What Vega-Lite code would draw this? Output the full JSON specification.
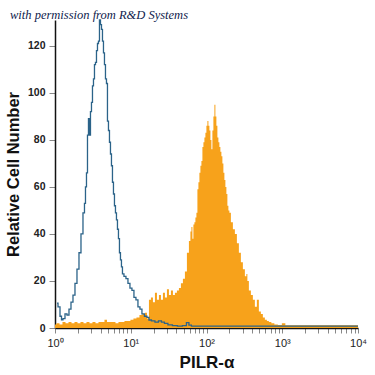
{
  "$schema": "https://vega.github.io/schema/vega-lite/v6.json",
  "autosize": "none",
  "width": 303,
  "height": 308,
  "padding": {"left": 55, "top": 20, "right": 17, "bottom": 47},
  "title": {
    "text": "with permission from R&D Systems",
    "anchor": "start",
    "frame": "group",
    "dx": -45,
    "offset": -14,
    "baseline": "alphabetic",
    "font": "Liberation Serif",
    "fontStyle": "italic",
    "fontWeight": "normal",
    "fontSize": 12.5,
    "color": "#0f1c4d"
  },
  "config": {
    "view": {"stroke": null},
    "axis": {"grid": false}
  },
  "datasets": {
    "control": [
      {"intensity": 1.063, "count": 10.6},
      {"intensity": 1.129, "count": 9},
      {"intensity": 1.2, "count": 5},
      {"intensity": 1.237, "count": 3.5},
      {"intensity": 1.314, "count": 4},
      {"intensity": 1.397, "count": 6},
      {"intensity": 1.484, "count": 5.5},
      {"intensity": 1.577, "count": 8},
      {"intensity": 1.676, "count": 11},
      {"intensity": 1.781, "count": 14},
      {"intensity": 1.892, "count": 19},
      {"intensity": 2.011, "count": 25},
      {"intensity": 2.137, "count": 32},
      {"intensity": 2.271, "count": 40},
      {"intensity": 2.413, "count": 49},
      {"intensity": 2.488, "count": 53},
      {"intensity": 2.564, "count": 60},
      {"intensity": 2.644, "count": 66},
      {"intensity": 2.725, "count": 82},
      {"intensity": 2.809, "count": 89},
      {"intensity": 2.895, "count": 82},
      {"intensity": 2.985, "count": 92},
      {"intensity": 3.077, "count": 96},
      {"intensity": 3.172, "count": 103},
      {"intensity": 3.27, "count": 106},
      {"intensity": 3.371, "count": 112},
      {"intensity": 3.475, "count": 113},
      {"intensity": 3.582, "count": 118},
      {"intensity": 3.693, "count": 121},
      {"intensity": 3.806, "count": 122},
      {"intensity": 3.924, "count": 131},
      {"intensity": 4.045, "count": 129},
      {"intensity": 4.17, "count": 127},
      {"intensity": 4.298, "count": 122},
      {"intensity": 4.431, "count": 117},
      {"intensity": 4.567, "count": 112},
      {"intensity": 4.709, "count": 106},
      {"intensity": 4.853, "count": 104},
      {"intensity": 5.003, "count": 88},
      {"intensity": 5.158, "count": 84},
      {"intensity": 5.317, "count": 79},
      {"intensity": 5.481, "count": 74},
      {"intensity": 5.649, "count": 69},
      {"intensity": 5.824, "count": 62},
      {"intensity": 6.003, "count": 57},
      {"intensity": 6.189, "count": 52},
      {"intensity": 6.38, "count": 49},
      {"intensity": 6.576, "count": 46},
      {"intensity": 6.779, "count": 42},
      {"intensity": 6.989, "count": 38},
      {"intensity": 7.203, "count": 32},
      {"intensity": 7.425, "count": 29},
      {"intensity": 7.654, "count": 26},
      {"intensity": 7.891, "count": 23},
      {"intensity": 8.385, "count": 22},
      {"intensity": 8.911, "count": 21},
      {"intensity": 9.469, "count": 19},
      {"intensity": 10.06, "count": 17},
      {"intensity": 10.69, "count": 16},
      {"intensity": 11.36, "count": 13},
      {"intensity": 12.07, "count": 12},
      {"intensity": 12.83, "count": 9},
      {"intensity": 13.63, "count": 8},
      {"intensity": 14.49, "count": 6},
      {"intensity": 15.87, "count": 5},
      {"intensity": 16.87, "count": 4.5},
      {"intensity": 17.92, "count": 3.4},
      {"intensity": 19.64, "count": 3},
      {"intensity": 22.16, "count": 2.5},
      {"intensity": 24.28, "count": 3},
      {"intensity": 26.6, "count": 2.5},
      {"intensity": 29.13, "count": 2},
      {"intensity": 32.9, "count": 1.3},
      {"intensity": 38.3, "count": 1},
      {"intensity": 44.58, "count": 0.8},
      {"intensity": 51.88, "count": 1},
      {"intensity": 56.84, "count": 2.3},
      {"intensity": 60.39, "count": 1.2},
      {"intensity": 66.16, "count": 0.8},
      {"intensity": 81.85, "count": 0.8},
      {"intensity": 10000, "count": 0.8}
    ],
    "positive": [
      {"intensity": 1.0, "count": 1.5},
      {"intensity": 1.096, "count": 2},
      {"intensity": 1.2, "count": 1.5},
      {"intensity": 1.314, "count": 2.5},
      {"intensity": 1.44, "count": 2},
      {"intensity": 1.577, "count": 2.5},
      {"intensity": 1.728, "count": 2},
      {"intensity": 1.892, "count": 2.5},
      {"intensity": 2.073, "count": 2},
      {"intensity": 2.271, "count": 2.5},
      {"intensity": 2.488, "count": 2},
      {"intensity": 2.725, "count": 2.5},
      {"intensity": 2.985, "count": 2},
      {"intensity": 3.27, "count": 2.5},
      {"intensity": 3.582, "count": 2},
      {"intensity": 3.924, "count": 2.5},
      {"intensity": 4.298, "count": 2.5},
      {"intensity": 4.709, "count": 3.5},
      {"intensity": 5.003, "count": 2.5},
      {"intensity": 5.481, "count": 2.5},
      {"intensity": 6.003, "count": 2.5},
      {"intensity": 6.576, "count": 2},
      {"intensity": 7.203, "count": 2.5},
      {"intensity": 7.891, "count": 2.5},
      {"intensity": 8.644, "count": 3},
      {"intensity": 9.469, "count": 3},
      {"intensity": 10.37, "count": 3.5},
      {"intensity": 11.36, "count": 4},
      {"intensity": 12.45, "count": 4.5},
      {"intensity": 13.63, "count": 5.5},
      {"intensity": 14.93, "count": 6},
      {"intensity": 15.87, "count": 6.5},
      {"intensity": 16.87, "count": 4},
      {"intensity": 17.92, "count": 12},
      {"intensity": 19.04, "count": 13},
      {"intensity": 20.24, "count": 11},
      {"intensity": 21.5, "count": 15},
      {"intensity": 22.86, "count": 12},
      {"intensity": 24.28, "count": 14},
      {"intensity": 25.8, "count": 12},
      {"intensity": 27.42, "count": 15},
      {"intensity": 29.13, "count": 13},
      {"intensity": 30.96, "count": 16.5},
      {"intensity": 32.9, "count": 14},
      {"intensity": 34.96, "count": 16},
      {"intensity": 37.15, "count": 14},
      {"intensity": 39.48, "count": 15},
      {"intensity": 41.95, "count": 16},
      {"intensity": 44.58, "count": 17},
      {"intensity": 47.37, "count": 19},
      {"intensity": 50.33, "count": 21},
      {"intensity": 53.48, "count": 24},
      {"intensity": 56.84, "count": 32},
      {"intensity": 60.39, "count": 37},
      {"intensity": 62.26, "count": 41},
      {"intensity": 64.18, "count": 43},
      {"intensity": 66.16, "count": 38},
      {"intensity": 68.2, "count": 44},
      {"intensity": 70.31, "count": 45},
      {"intensity": 72.48, "count": 47},
      {"intensity": 74.72, "count": 49},
      {"intensity": 77.02, "count": 59},
      {"intensity": 79.4, "count": 62},
      {"intensity": 81.85, "count": 66},
      {"intensity": 84.38, "count": 69},
      {"intensity": 86.98, "count": 71},
      {"intensity": 89.67, "count": 77},
      {"intensity": 92.43, "count": 79},
      {"intensity": 95.28, "count": 81},
      {"intensity": 98.2, "count": 83},
      {"intensity": 101.2, "count": 86},
      {"intensity": 104.4, "count": 88},
      {"intensity": 107.6, "count": 86},
      {"intensity": 110.9, "count": 84},
      {"intensity": 114.3, "count": 80},
      {"intensity": 117.8, "count": 76},
      {"intensity": 121.5, "count": 84},
      {"intensity": 125.2, "count": 90},
      {"intensity": 129.1, "count": 95},
      {"intensity": 133.0, "count": 90},
      {"intensity": 137.1, "count": 86},
      {"intensity": 141.4, "count": 81},
      {"intensity": 145.7, "count": 79},
      {"intensity": 150.2, "count": 77},
      {"intensity": 154.9, "count": 75},
      {"intensity": 159.6, "count": 73},
      {"intensity": 164.6, "count": 70},
      {"intensity": 169.6, "count": 66},
      {"intensity": 174.9, "count": 63},
      {"intensity": 180.3, "count": 60},
      {"intensity": 185.8, "count": 57},
      {"intensity": 191.6, "count": 52},
      {"intensity": 197.5, "count": 50},
      {"intensity": 203.6, "count": 49},
      {"intensity": 216.3, "count": 45},
      {"intensity": 229.9, "count": 42},
      {"intensity": 244.3, "count": 40},
      {"intensity": 259.6, "count": 36},
      {"intensity": 275.8, "count": 32},
      {"intensity": 293.1, "count": 28},
      {"intensity": 311.5, "count": 25},
      {"intensity": 331.0, "count": 22},
      {"intensity": 341.2, "count": 23},
      {"intensity": 351.8, "count": 20},
      {"intensity": 373.8, "count": 16},
      {"intensity": 397.2, "count": 14},
      {"intensity": 422.0, "count": 12},
      {"intensity": 448.5, "count": 9},
      {"intensity": 476.6, "count": 12},
      {"intensity": 506.4, "count": 7},
      {"intensity": 538.2, "count": 6},
      {"intensity": 571.9, "count": 4.5},
      {"intensity": 607.6, "count": 3.5},
      {"intensity": 645.7, "count": 3},
      {"intensity": 686.1, "count": 2.5},
      {"intensity": 751.6, "count": 2},
      {"intensity": 823.3, "count": 1.5},
      {"intensity": 929.6, "count": 1.3},
      {"intensity": 1050, "count": 2},
      {"intensity": 1150, "count": 1.2},
      {"intensity": 1260, "count": 1.2},
      {"intensity": 1707, "count": 1.2},
      {"intensity": 10000, "count": 1.2}
    ]
  },
  "encoding": {
    "x": {
      "field": "intensity",
      "type": "quantitative",
      "scale": {"type": "log", "domain": [1, 10000], "nice": false},
      "axis": {
        "title": "PILR-α",
        "titleFont": "Liberation Sans",
        "titleFontSize": 17,
        "titleFontWeight": "bold",
        "titleColor": "#111111",
        "titlePadding": 6,
        "values": [1,2,3,4,5,6,7,8,9,10,20,30,40,50,60,70,80,90,100,200,300,400,500,600,700,800,900,1000,2000,3000,4000,5000,6000,7000,8000,9000,10000],
        "labelExpr": "indexof([1,10,100,1000,10000], datum.value) >= 0 ? '10' + ['⁰','¹','²','³','⁴'][round(log(datum.value)/LN10)] : ''",
        "labelOverlap": false,
        "labelFlush": false,
        "labelFont": "Liberation Sans",
        "labelFontSize": 11,
        "labelColor": "#222222",
        "labelPadding": 4,
        "tickSize": 5,
        "tickColor": "#888888",
        "domainColor": "#111111",
        "domainWidth": 1.5
      }
    },
    "y": {
      "field": "count",
      "type": "quantitative",
      "scale": {"domain": [0, 131], "nice": false},
      "axis": {
        "title": "Relative Cell Number",
        "titleFont": "Liberation Sans",
        "titleFontSize": 16.5,
        "titleFontWeight": "bold",
        "titleColor": "#111111",
        "titlePadding": 6,
        "values": [0, 20, 40, 60, 80, 100, 120],
        "labelFont": "Liberation Sans",
        "labelFontSize": 10.5,
        "labelFontWeight": "bold",
        "labelColor": "#222222",
        "labelPadding": 4,
        "tickSize": 6,
        "tickColor": "#888888",
        "domainColor": "#111111",
        "domainWidth": 1.5
      }
    }
  },
  "layer": [
    {
      "data": {"name": "positive"},
      "mark": {"type": "area", "interpolate": "step", "color": "#F7A21B", "opacity": 1}
    },
    {
      "data": {"name": "control"},
      "mark": {"type": "line", "interpolate": "step", "color": "#2b6389", "strokeWidth": 1.3}
    }
  ]
}
